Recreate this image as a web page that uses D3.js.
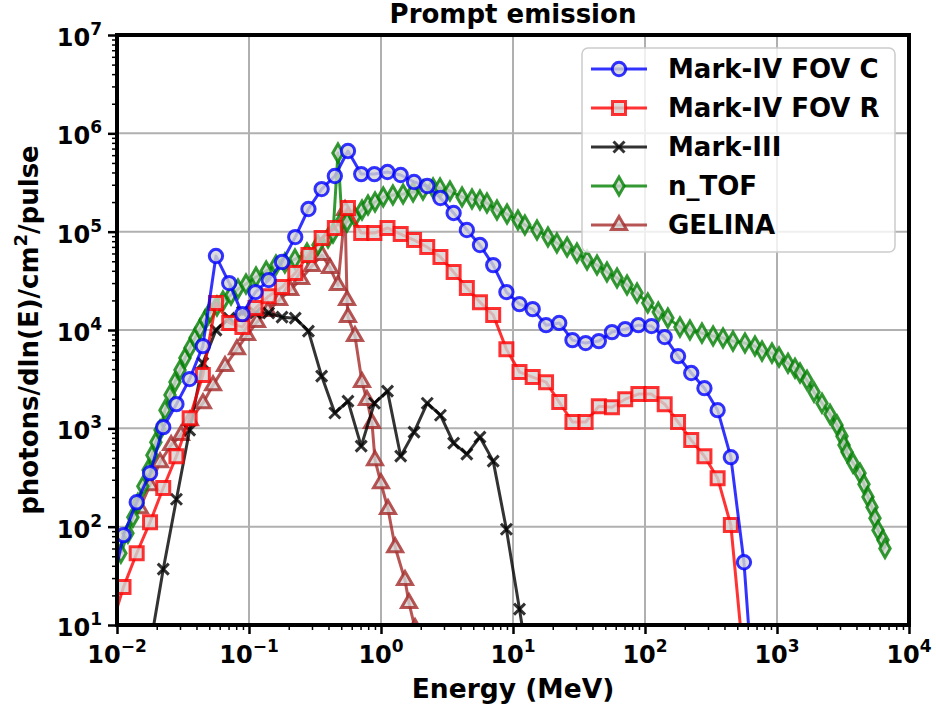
<!DOCTYPE html>
<html>
<head>
<meta charset="utf-8">
<title>Prompt emission</title>
<style>
    body { margin: 0; background: #fff; }
    text { font-family: "DejaVu Sans", sans-serif; font-weight: bold; fill: #000; }
</style>
</head>
<body>
<div class="plot_container"></div>
<script src="https://cdn.jsdelivr.net/npm/d3@7"></script>
<script type="text/javascript">
// energies (MeV) and photons/dln(E)/cm2/pulse
var markIVC_E = [0.00891, 0.0112, 0.0141, 0.0178, 0.0224, 0.0282, 0.0355, 0.0447, 0.0562, 0.0708, 0.0891,
    0.112, 0.141, 0.178, 0.224, 0.282, 0.355, 0.447, 0.562, 0.708, 0.891,
    1.12, 1.41, 1.78, 2.24, 2.82, 3.55, 4.47, 5.62, 7.08, 8.91,
    11.2, 14.1, 17.8, 22.4, 28.2, 35.5, 44.7, 56.2, 70.8, 89.1,
    112, 141, 178, 224, 282, 355, 447, 562, 708];
var markIVC_F = [20, 82, 177, 350, 1028, 1762, 3170, 6860, 56500, 30000, 14500,
    24300, 32200, 49100, 88100, 170000, 271000, 368000, 661000, 385000, 385000,
    404000, 377000, 320000, 291000, 220000, 155000, 104000, 73100, 45700, 24300,
    18300, 16300, 11200, 11800, 7890, 7360, 7710, 9520, 10200, 11200,
    10960, 8470, 5420, 3650, 2560, 1530, 509, 43.5, 0.6];

var markIVR_E = [0.00891, 0.0112, 0.0141, 0.0178, 0.0224, 0.0282, 0.0355, 0.0447, 0.0562, 0.0708, 0.0891,
    0.112, 0.141, 0.178, 0.224, 0.282, 0.355, 0.447, 0.562, 0.708, 0.891,
    1.12, 1.41, 1.78, 2.24, 2.82, 3.55, 4.47, 5.62, 7.08, 8.91,
    11.2, 14.1, 17.8, 22.4, 28.2, 35.5, 44.7, 56.2, 70.8, 89.1,
    112, 141, 178, 224, 282, 355, 447, 562];
var markIVR_F = [9, 24.3, 53.7, 111, 247, 521, 1270, 3480, 18800, 11800, 10700,
    16700, 22100, 27300, 37900, 57800, 86100, 109000, 174000, 96800, 96800,
    109000, 94500, 82200, 69700, 55200, 38800, 26700, 19200, 14200, 6390,
    3730, 3320, 2950, 1850, 1160, 1160, 1680, 1640, 1980, 2230,
    2230, 1760, 1160, 759, 521, 311, 104, 4];

var markIII_E = [0.0178, 0.0224, 0.0282, 0.0355, 0.0447, 0.0562, 0.0708, 0.0891, 0.112, 0.141,
    0.178, 0.224, 0.282, 0.355, 0.447, 0.562, 0.708, 0.891, 1.12, 1.41,
    1.78, 2.24, 2.82, 3.55, 4.47, 5.62, 7.08, 8.91, 11.2, 14.1];
var markIII_F = [6, 37, 190, 960, 4600, 9980, 13200, 15200, 14900, 14900,
    13500, 13200, 9750, 3400, 1430, 1890, 659, 1800, 2390, 521,
    915, 1800, 1360, 707, 547, 813, 464, 94, 14.5, 2];

var nTOF_E = [0.0107, 0.0121, 0.0132, 0.0144, 0.0157, 0.0172, 0.0184, 0.0197, 0.0212, 0.0231,
    0.0252, 0.0275, 0.0300, 0.0327, 0.0357, 0.0390, 0.0425, 0.0464, 0.0506, 0.0572,
    0.0635, 0.0731, 0.0825, 0.0949, 0.113, 0.135, 0.160, 0.187, 0.223, 0.275,
    0.333, 0.397, 0.433, 0.472, 0.506, 0.553, 0.635, 0.718, 0.797, 0.901,
    1.04, 1.23, 1.47, 1.75, 2.08, 2.48, 2.80, 3.33, 4.11, 4.89,
    5.62, 6.35, 7.56, 9.01, 10.9, 12.3, 15.2, 18.4, 21.5, 25.7,
    30.5, 36.4, 43.3, 51.5, 61.4, 73.1, 87.0, 105, 126, 149,
    184, 219, 270, 328, 390, 464, 572, 681, 770, 916,
    1036, 1212, 1369, 1494, 1688, 1907, 2192, 2521, 2848, 3108,
    3218, 3391, 3766, 4255, 4560, 4891, 5244, 5525, 5825, 6353, 6579];
var nTOF_F = [53.7, 85.9, 125, 173, 258, 376, 534, 724, 959, 1531,
    2178, 2951, 3908, 5176, 6546, 8275, 10210, 12600, 15200, 17500,
    19700, 22650, 26060, 29300, 34520, 39720, 45710, 47970, 52600, 60540,
    73100, 86100, 96800, 631000, 131200, 125300, 140800, 165900, 186500, 200000,
    224900, 235600, 241300, 252900, 264900, 277800, 277800, 258800, 224900, 214800,
    209600, 195400, 165900, 151000, 131200, 116700, 103800, 88100, 76560, 69700,
    60540, 51400, 45710, 38820, 33730, 28640, 23730, 18790, 15200, 13210,
    10700, 9980, 9290, 8670, 8275, 7710, 7360, 6860, 6100, 5820,
    5300, 4600, 4090, 3650, 3090, 2335, 1803, 1393, 1078, 833,
    675, 573, 443, 350, 270, 200, 158, 122, 92, 73, 60];

var gelina_E = [0.0149, 0.0178, 0.0212, 0.0257, 0.0305, 0.0357, 0.0448, 0.0534, 0.0658, 0.0811,
    0.0966, 0.115, 0.139, 0.169, 0.205, 0.248, 0.300, 0.357, 0.411, 0.472,
    0.534, 0.553, 0.562, 0.635, 0.718, 0.783, 0.855, 0.901, 1.00, 1.13,
    1.28, 1.52, 1.63, 1.81];
var gelina_F = [154, 264, 453, 675, 853, 1211, 1803, 2750, 4295, 6390,
    8870, 12030, 15560, 20140, 25470, 32960, 44670, 57800, 42660, 28640,
    165900, 20140, 13520, 8670, 2951, 1936, 1130, 475, 277, 151,
    61.8, 28.6, 16.7, 9.3];

var seriesNames = ["Mark-IV FOV C", "Mark-IV FOV R", "Mark-III", "n_TOF", "GELINA"];
var xTicks = [1e-2, 1e-1, 1e0, 1e1, 1e2, 1e3, 1e4];
var xTickExp = ["\u22122", "\u22121", "0", "1", "2", "3", "4"];
var yTicks = [1e1, 1e2, 1e3, 1e4, 1e5, 1e6, 1e7];
var yTickExp = ["1", "2", "3", "4", "5", "6", "7"];

var width = 936, height = 708;
var plotL = 117, plotR = 909, plotT = 35, plotB = 625;

var svg = d3.select(".plot_container").append("svg")
        .attr("width", width)
        .attr("height", height);

var x = d3.scaleLog().domain([1e-2, 1e4]).range([plotL, plotR]);
var y = d3.scaleLog().domain([1e1, 1e7]).range([plotB, plotT]);

// minor tick values 2..9 per decade
var xMinor = [], yMinor = [];
for (var p = -2; p < 4; p++) {
    for (var m = 2; m < 10; m++) xMinor.push(m * Math.pow(10, p));
}
for (var p = 1; p < 7; p++) {
    for (var m = 2; m < 10; m++) yMinor.push(m * Math.pow(10, p));
}

// grid
svg.append("g").selectAll("line")
        .data(xTicks)
        .enter().append("line")
        .attr("x1", function(d){ return x(d); })
        .attr("x2", function(d){ return x(d); })
        .attr("y1", plotT).attr("y2", plotB)
        .style("stroke", "#b0b0b0").style("stroke-width", 2);
svg.append("g").selectAll("line")
        .data(yTicks)
        .enter().append("line")
        .attr("y1", function(d){ return y(d); })
        .attr("y2", function(d){ return y(d); })
        .attr("x1", plotL).attr("x2", plotR)
        .style("stroke", "#b0b0b0").style("stroke-width", 2);

// data
svg.append("clipPath").attr("id", "plot_clip")
        .append("rect")
        .attr("x", plotL).attr("y", plotT)
        .attr("width", plotR - plotL).attr("height", plotB - plotT);
var plot = svg.append("g").attr("clip-path", "url(#plot_clip)");

var markers = {
    circle: d3.symbol().type(d3.symbolCircle).size(140)(),
    square: d3.symbol().type(d3.symbolSquare).size(169)(),
    cross: "M-5.5,-5.5L5.5,5.5M-5.5,5.5L5.5,-5.5",
    diamond: d3.symbol().type(d3.symbolDiamond).size(94)(),
    triangle: "M0,-8.5L7.5,4.5L-7.5,4.5Z"
};

var lineGen = d3.line()
        .x(function(d){ return x(d[0]); })
        .y(function(d){ return y(d[1]); });

function draw_series(E, F, color, marker, g) {
    var pts = E.map(function(e, i){ return [e, F[i]]; });
    g.append("path")
            .attr("d", lineGen(pts))
            .style("fill", "none")
            .style("stroke", color)
            .style("stroke-opacity", 0.8)
            .style("stroke-width", 3)
            .style("stroke-linejoin", "round");
    g.selectAll(null)
            .data(pts)
            .enter().append("path")
            .attr("d", markers[marker])
            .attr("transform", function(d){ return "translate(" + x(d[0]) + "," + y(d[1]) + ")"; })
            .style("fill", marker == "cross" ? "none" : "#d3d3d3")
            .style("fill-opacity", 0.8)
            .style("stroke", color)
            .style("stroke-opacity", 0.8)
            .style("stroke-width", 3);
}

var styles = [
    {E: markIVC_E, F: markIVC_F, color: "#0000ff", marker: "circle"},
    {E: markIVR_E, F: markIVR_F, color: "#ff0000", marker: "square"},
    {E: markIII_E, F: markIII_F, color: "#000000", marker: "cross"},
    {E: nTOF_E, F: nTOF_F, color: "#008000", marker: "diamond"},
    {E: gelina_E, F: gelina_F, color: "#a52a2a", marker: "triangle"}
];
// paint order: GELINA, n_TOF, Mark-III, FOV R, FOV C
[4, 3, 2, 1, 0].forEach(function(i){
    var s = styles[i];
    draw_series(s.E, s.F, s.color, s.marker, plot.append("g"));
});

// axes ticks
function style_axis(g) {
    g.select(".domain").remove();
    g.selectAll(".tick line").style("stroke", "#000");
}
svg.append("g").attr("transform", "translate(0," + plotB + ")")
        .call(d3.axisBottom(x).tickValues(xTicks).tickSize(9).tickFormat(""))
        .call(style_axis)
        .selectAll(".tick line").style("stroke-width", 2.5);
svg.append("g").attr("transform", "translate(0," + plotB + ")")
        .call(d3.axisBottom(x).tickValues(xMinor).tickSize(5).tickFormat(""))
        .call(style_axis)
        .selectAll(".tick line").style("stroke-width", 1.5);
svg.append("g").attr("transform", "translate(" + plotL + ",0)")
        .call(d3.axisLeft(y).tickValues(yTicks).tickSize(9).tickFormat(""))
        .call(style_axis)
        .selectAll(".tick line").style("stroke-width", 2.5);
svg.append("g").attr("transform", "translate(" + plotL + ",0)")
        .call(d3.axisLeft(y).tickValues(yMinor).tickSize(5).tickFormat(""))
        .call(style_axis)
        .selectAll(".tick line").style("stroke-width", 1.5);

// tick labels, 10^n
var xl = svg.append("g").selectAll("text")
        .data(xTicks)
        .enter().append("text")
        .attr("x", function(d){ return x(d); })
        .attr("y", 663)
        .attr("text-anchor", "middle")
        .style("font-size", "24px");
xl.append("tspan").text("10");
xl.append("tspan").attr("dy", -11).style("font-size", "17px")
        .text(function(d, i){ return xTickExp[i]; });

var yl = svg.append("g").selectAll("text")
        .data(yTicks)
        .enter().append("text")
        .attr("x", 102)
        .attr("y", function(d){ return y(d) + 11; })
        .attr("text-anchor", "end")
        .style("font-size", "24px");
yl.append("tspan").text("10");
yl.append("tspan").attr("dy", -11).style("font-size", "17px")
        .text(function(d, i){ return yTickExp[i]; });

// spines
svg.append("rect")
        .attr("x", plotL).attr("y", plotT)
        .attr("width", plotR - plotL).attr("height", plotB - plotT)
        .style("fill", "none").style("stroke", "#000").style("stroke-width", 4);

// title and axis labels
svg.append("text")
        .attr("x", (plotL + plotR) / 2).attr("y", 23)
        .attr("text-anchor", "middle")
        .style("font-size", "26px")
        .text("Prompt emission");
svg.append("text")
        .attr("x", (plotL + plotR) / 2).attr("y", 698)
        .attr("text-anchor", "middle")
        .style("font-size", "26.5px")
        .text("Energy (MeV)");
var ylab = svg.append("text")
        .attr("transform", "translate(38," + (plotT + plotB) / 2 + ") rotate(-90)")
        .attr("text-anchor", "middle")
        .style("font-size", "26px");
ylab.append("tspan").text("photons/dln(E)/cm");
ylab.append("tspan").attr("dy", -11).style("font-size", "18px").text("2");
ylab.append("tspan").attr("dy", 11).text("/pulse");

// legend
var legend = svg.append("g");
legend.append("rect")
        .attr("x", 582).attr("y", 48)
        .attr("width", 313).attr("height", 204)
        .attr("rx", 6)
        .style("fill", "#fff").style("fill-opacity", 0.8)
        .style("stroke", "#cccccc").style("stroke-width", 1.5);
var rows = legend.selectAll("g.row")
        .data(styles)
        .enter().append("g")
        .attr("class", "row")
        .attr("transform", function(d, i){ return "translate(0," + (69 + i * 39) + ")"; });
rows.append("line")
        .attr("x1", 591).attr("x2", 647)
        .style("stroke", function(d){ return d.color; })
        .style("stroke-opacity", 0.8)
        .style("stroke-width", 3);
rows.append("path")
        .attr("d", function(d){ return markers[d.marker]; })
        .attr("transform", "translate(619,0)")
        .style("fill", function(d){ return d.marker == "cross" ? "none" : "#d3d3d3"; })
        .style("fill-opacity", 0.8)
        .style("stroke", function(d){ return d.color; })
        .style("stroke-opacity", 0.8)
        .style("stroke-width", 3);
rows.append("text")
        .attr("x", 668).attr("y", 9)
        .style("font-size", "26px")
        .text(function(d, i){ return seriesNames[i]; });
</script>
</body>
</html>
